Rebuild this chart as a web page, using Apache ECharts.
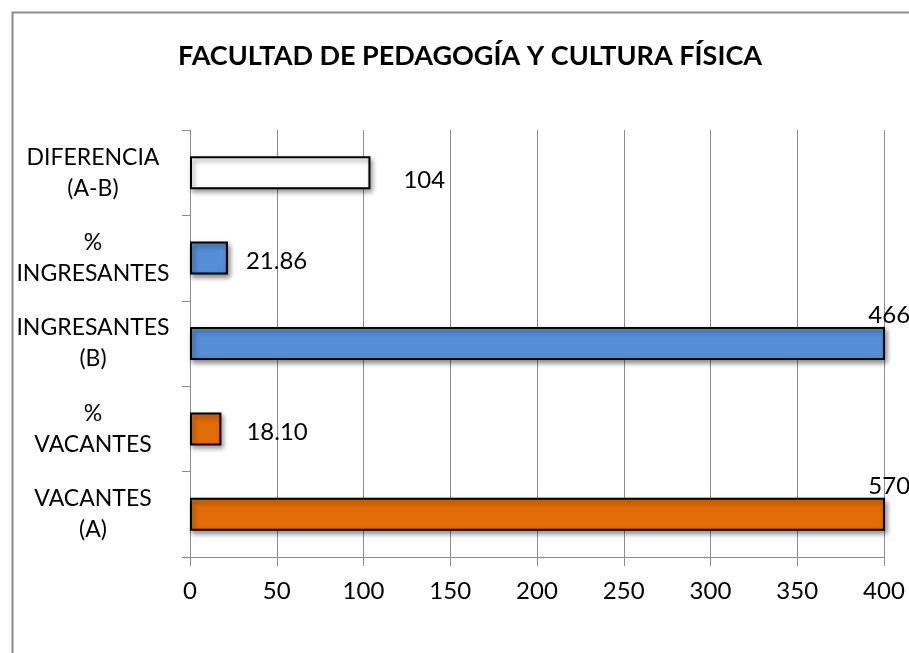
<!DOCTYPE html>
<html>
<head>
<meta charset="utf-8">
<script src="https://cdn.jsdelivr.net/npm/echarts@6/dist/echarts.min.js"></script>
<style>
  html, body { margin: 0; padding: 0; background: #fff; }
  #chart { width: 909px; height: 653px; }
</style>
</head>
<body>
<div id="chart"></div>
<script>
// Categories, bottom to top
const categories = ['VACANTES\n(A)', '%\nVACANTES', 'INGRESANTES\n(B)', '%\nINGRESANTES', 'DIFERENCIA\n(A-B)'];
const values = [570, 18.10, 466, 21.86, 104];
const decimals = [0, 2, 0, 2, 0];
const barColors = ['#E36C09', '#E36C09', '#558ED5', '#558ED5', '#FFFFFF'];
const xTicks = [0, 50, 100, 150, 200, 250, 300, 350, 400];

const FONT = 'Lato';

// label placement per bar: beyond the axis max the label sits above the bar end
function labelFor(i) {
  if (values[i] > xTicks[xTicks.length - 1]) {
    return { position: ['97.6%', -24] };
  }
  const dist = [0, 25, 0, 18, 33][i];
  return { position: 'right', distance: dist, offset: [0, i === 4 ? 8 : 3] };
}

const chart = echarts.init(document.getElementById('chart'));
chart.setOption({
  animation: false,
  backgroundColor: '#fff',
  title: {
    text: 'FACULTAD DE PEDAGOGÍA Y CULTURA FÍSICA',
    left: 465, top: 38, textAlign: 'center',
    textStyle: { fontFamily: FONT, fontWeight: 'bold', fontSize: 27, color: '#000' }
  },
  graphic: [{
    type: 'rect', left: 10, top: 10,
    shape: { width: 1000, height: 1000 },
    style: { fill: 'none', stroke: '#8a8a8a', lineWidth: 2 },
    silent: true
  }],
  grid: { left: 190, right: 25, top: 130, bottom: 96 },
  xAxis: {
    type: 'value', min: 0, max: 400, interval: 50,
    axisLine: { show: true, lineStyle: { color: '#8c8c8c', width: 1 } },
    axisTick: { show: true, length: 9, lineStyle: { color: '#8c8c8c' } },
    splitLine: { show: true, lineStyle: { color: '#8c8c8c', width: 1 } },
    axisLabel: { fontFamily: FONT, fontSize: 24, color: '#000', margin: 22,
      formatter: v => String(v) }
  },
  yAxis: {
    type: 'category', data: categories,
    axisLine: { show: true, lineStyle: { color: '#8c8c8c', width: 1 } },
    axisTick: { show: true, length: 8, lineStyle: { color: '#8c8c8c' } },
    splitLine: { show: false },
    axisLabel: { fontFamily: FONT, fontSize: 23, color: '#000', align: 'center',
      margin: 97, lineHeight: 31 }
  },
  series: [{
    type: 'bar',
    barWidth: 33,
    clip: true,
    data: values.map((v, i) => ({
      value: v,
      itemStyle: { color: barColors[i] },
      label: labelFor(i)
    })),
    itemStyle: {
      borderColor: '#000', borderWidth: 2,
      shadowColor: 'rgba(0,0,0,0.45)', shadowBlur: 5, shadowOffsetX: 2, shadowOffsetY: 3
    },
    label: {
      show: true, fontFamily: FONT, fontSize: 24, color: '#000',
      formatter: p => p.value.toFixed(decimals[p.dataIndex])
    }
  }]
});
</script>
</body>
</html>
